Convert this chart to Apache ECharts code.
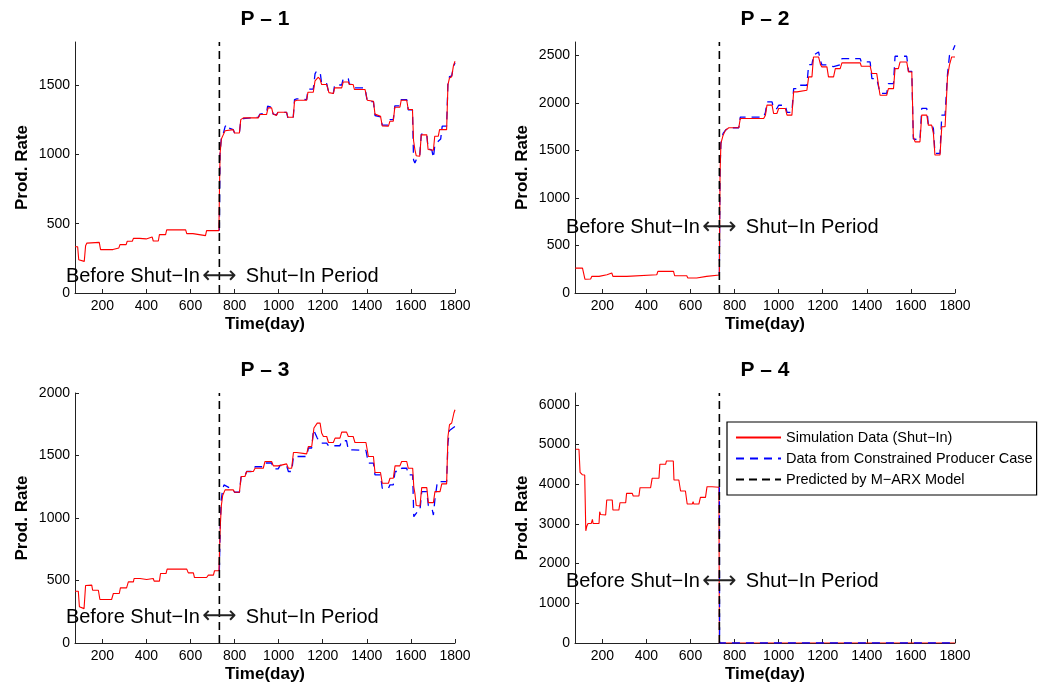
<!DOCTYPE html>
<html>
<head>
<meta charset="utf-8">
<title>Production rate before and during shut-in</title>
<script src="https://cdn.jsdelivr.net/npm/echarts@6/dist/echarts.min.js"></script>
<style>
  html, body { margin: 0; padding: 0; background: #fff; }
  #chart { width: 1045px; height: 689px; }
</style>
</head>
<body>
<div id="chart"></div>
<script>
// Producer names and panel titles
const wells = ['P \u2013 1', 'P \u2013 2', 'P \u2013 3', 'P \u2013 4'];
const seriesNames = ['Simulation Data (Shut\u2212In)', 'Data from Constrained Producer Case', 'Predicted by M\u2212ARX Model'];

// Day at which the shut-in starts
const shutInDay = 731;

// Axis ranges and tick labels
const dayMin = 76, dayMax = 1800;
const dayTicks = [200, 400, 600, 800, 1000, 1200, 1400, 1600, 1800];
const rateMax = [1810, 2640, 2000, 6300];
const rateTicks = [
  [0, 500, 1000, 1500],
  [0, 500, 1000, 1500, 2000, 2500],
  [0, 500, 1000, 1500, 2000],
  [0, 1000, 2000, 3000, 4000, 5000, 6000]
];
// Height of the period annotation in each panel (rate units)
const noteRate = [120, 690, 208, 1540];

// P-1 : [day, rate]
const p1Sim = [[76,334],[88,334],[93,240],[98,228],[118,228],[124,340],[130,360],[137,365],[186,365],[192,313],[248,313],[253,325],[275,325],[280,349],[308,349],[313,373],[336,373],[341,394],[369,394],[373,390],[399,390],[404,404],[426,404],[431,375],[454,375],[459,421],[487,421],[492,455],[578,455],[583,428],[611,428],[616,414],[668,414],[673,450],[729,450],[731,700],[734,1003],[740,1110],[749,1142],[757,1170],[764,1178],[794,1178],[800,1154],[822,1154],[828,1250],[840,1263],[908,1263],[915,1287],[945,1287],[952,1335],[968,1335],[975,1290],[983,1280],[990,1280],[996,1303],[1036,1303],[1042,1267],[1066,1267],[1072,1383],[1082,1390],[1127,1390],[1133,1448],[1157,1448],[1165,1530],[1180,1556],[1188,1540],[1195,1503],[1218,1503],[1228,1445],[1248,1438],[1254,1479],[1286,1479],[1293,1522],[1316,1522],[1321,1503],[1338,1503],[1344,1467],[1392,1467],[1402,1390],[1430,1383],[1437,1290],[1462,1275],[1470,1205],[1498,1203],[1505,1239],[1520,1239],[1527,1340],[1550,1340],[1556,1390],[1581,1390],[1588,1323],[1607,1323],[1612,1100],[1618,1034],[1624,990],[1640,986],[1647,1140],[1672,1140],[1678,1035],[1702,1029],[1708,1130],[1724,1130],[1730,1178],[1762,1178],[1768,1500],[1775,1551],[1785,1560],[1793,1640],[1800,1671]];
const p1Con = [[731,450],[734,1000],[740,1120],[749,1150],[757,1200],[764,1215],[772,1190],[794,1178],[800,1154],[822,1154],[828,1245],[840,1258],[908,1268],[915,1290],[945,1300],[950,1347],[968,1340],[975,1290],[990,1285],[996,1300],[1036,1303],[1042,1262],[1066,1262],[1072,1395],[1082,1400],[1127,1395],[1133,1470],[1157,1470],[1165,1580],[1170,1595],[1188,1595],[1195,1510],[1218,1510],[1228,1440],[1248,1440],[1254,1500],[1286,1500],[1293,1546],[1316,1546],[1321,1505],[1338,1505],[1344,1479],[1392,1479],[1402,1380],[1430,1380],[1437,1280],[1462,1270],[1470,1210],[1498,1210],[1505,1250],[1520,1250],[1527,1350],[1550,1350],[1556,1395],[1581,1395],[1588,1320],[1607,1320],[1612,960],[1618,938],[1624,960],[1640,990],[1647,1145],[1672,1145],[1678,1040],[1695,1030],[1702,974],[1708,1060],[1724,1094],[1735,1110],[1742,1203],[1762,1203],[1768,1520],[1775,1560],[1785,1565],[1793,1630],[1800,1660]];

// P-2 : [day, rate]
const p2Sim = [[77,262],[110,262],[117,252],[121,145],[125,140],[147,147],[152,175],[185,175],[190,192],[221,192],[226,210],[243,210],[248,175],[311,175],[316,192],[447,192],[452,227],[523,227],[528,182],[583,182],[588,157],[628,157],[633,175],[673,175],[678,189],[731,189],[734,1259],[738,1573],[748,1660],[759,1713],[774,1738],[819,1738],[826,1836],[932,1836],[940,1870],[947,1976],[970,1976],[977,1888],[992,1888],[1000,1941],[1030,1941],[1038,1871],[1060,1871],[1068,2115],[1083,2115],[1090,2133],[1128,2133],[1136,2273],[1151,2273],[1158,2483],[1181,2483],[1190,2400],[1196,2378],[1219,2378],[1226,2273],[1249,2273],[1257,2360],[1279,2360],[1287,2420],[1370,2420],[1375,2385],[1415,2385],[1423,2308],[1445,2308],[1460,2080],[1490,2080],[1498,2150],[1521,2150],[1528,2360],[1543,2360],[1551,2430],[1581,2430],[1589,2325],[1604,2325],[1611,1643],[1619,1590],[1641,1590],[1649,1871],[1672,1871],[1679,1766],[1694,1766],[1702,1678],[1709,1451],[1732,1451],[1740,1748],[1755,1748],[1766,2273],[1775,2400],[1785,2483],[1800,2483]];
const p2Con = [[731,189],[734,1300],[738,1573],[748,1680],[759,1713],[774,1738],[819,1738],[826,1850],[932,1850],[940,1900],[947,2010],[970,2010],[977,1940],[992,1940],[1000,1975],[1030,1975],[1038,1900],[1060,1900],[1068,2150],[1083,2150],[1090,2185],[1128,2185],[1136,2402],[1151,2402],[1158,2500],[1181,2535],[1190,2440],[1196,2400],[1219,2400],[1226,2380],[1249,2380],[1257,2400],[1279,2400],[1287,2465],[1370,2465],[1375,2430],[1415,2430],[1423,2255],[1445,2255],[1460,2100],[1490,2100],[1498,2203],[1521,2203],[1528,2490],[1581,2490],[1589,2330],[1604,2330],[1611,1620],[1619,1608],[1641,1608],[1649,1941],[1672,1941],[1679,1770],[1694,1770],[1702,1731],[1709,1469],[1732,1469],[1740,1871],[1755,1871],[1766,2300],[1775,2500],[1790,2550],[1800,2605]];

// P-3 : [day, rate]
const p3Sim = [[76,414],[91,414],[96,290],[100,275],[117,275],[124,460],[130,463],[152,463],[156,422],[182,422],[189,348],[242,348],[250,396],[277,396],[282,441],[310,441],[318,489],[341,489],[344,516],[371,516],[374,508],[401,508],[404,516],[431,516],[435,495],[459,495],[464,556],[489,556],[494,591],[583,591],[590,561],[613,561],[618,524],[673,524],[681,543],[704,543],[709,578],[729,578],[731,700],[735,930],[740,1100],[746,1180],[757,1225],[794,1225],[800,1206],[822,1206],[830,1332],[847,1332],[855,1372],[885,1372],[893,1398],[930,1398],[938,1452],[968,1452],[976,1417],[998,1417],[1006,1433],[1036,1433],[1044,1398],[1059,1398],[1067,1524],[1082,1524],[1089,1513],[1127,1513],[1135,1572],[1150,1572],[1160,1720],[1175,1759],[1188,1759],[1195,1680],[1203,1652],[1218,1652],[1226,1604],[1248,1604],[1256,1639],[1278,1639],[1286,1687],[1308,1687],[1316,1652],[1338,1652],[1346,1604],[1396,1604],[1407,1492],[1430,1492],[1437,1364],[1462,1364],[1470,1278],[1498,1278],[1505,1318],[1520,1318],[1528,1417],[1550,1417],[1558,1452],[1581,1452],[1588,1398],[1608,1398],[1613,1250],[1618,1198],[1624,1100],[1641,1096],[1649,1243],[1672,1243],[1679,1123],[1702,1123],[1709,1211],[1732,1211],[1740,1273],[1762,1273],[1768,1650],[1775,1746],[1785,1760],[1795,1840],[1800,1866]];
const p3Con = [[731,578],[735,950],[740,1150],[746,1230],[752,1265],[760,1250],[794,1225],[800,1206],[822,1206],[830,1340],[847,1340],[855,1372],[885,1372],[893,1410],[930,1410],[938,1440],[968,1440],[976,1393],[998,1393],[1006,1420],[1036,1420],[1044,1372],[1059,1372],[1067,1492],[1127,1492],[1135,1560],[1150,1560],[1158,1706],[1165,1706],[1175,1640],[1188,1599],[1218,1599],[1226,1578],[1278,1578],[1286,1618],[1308,1618],[1316,1545],[1338,1545],[1346,1540],[1396,1540],[1407,1439],[1430,1439],[1437,1345],[1462,1345],[1470,1238],[1498,1238],[1505,1265],[1520,1265],[1528,1372],[1550,1372],[1558,1398],[1581,1398],[1588,1345],[1608,1345],[1613,1011],[1620,1011],[1630,1051],[1641,1060],[1649,1211],[1672,1211],[1679,1100],[1695,1080],[1702,1024],[1709,1150],[1720,1291],[1762,1291],[1768,1600],[1775,1700],[1800,1733]];

// P-4 : [day, rate]
const p4Sim = [[79,4882],[94,4882],[99,4300],[109,4240],[120,4234],[125,2828],[130,2950],[135,3013],[150,3013],[155,3114],[158,3013],[185,3013],[188,3308],[192,3240],[215,3224],[220,3603],[245,3603],[248,3350],[275,3350],[280,3535],[306,3535],[310,3771],[336,3771],[340,3704],[366,3704],[371,3914],[419,3914],[426,4150],[457,4150],[461,4503],[487,4503],[491,4588],[522,4588],[525,4108],[547,4108],[555,3830],[577,3830],[585,3502],[608,3502],[612,3561],[615,3502],[638,3502],[645,3670],[668,3670],[675,3939],[698,3939],[703,3923],[729,3923],[731,0],[1800,0]];
const p4Con = [[731,3923],[732,0],[1800,0]];

const simData = [p1Sim, p2Sim, p3Sim, p4Sim];
const conData = [p1Con, p2Con, p3Con, p4Con];

// Panel placement (pixels)
const panelLeft = [75, 575, 75, 575];
const panelTop = [42, 42, 393, 393];
const panelWidth = 380;
const panelHeight = [251, 251, 250, 250];

const FONT = '"Liberation Sans", Arial, Helvetica, sans-serif';
const INK = '#000';
const plain = v => String(v);

const grids = [], xAxes = [], yAxes = [], titles = [], series = [];

wells.forEach((name, i) => {
  grids.push({ left: panelLeft[i], top: panelTop[i], width: panelWidth, height: panelHeight[i], containLabel: false });

  titles.push({
    text: name,
    left: panelLeft[i] + panelWidth / 2,
    top: panelTop[i] - 33,
    padding: 0,
    textAlign: 'center',
    textStyle: { fontFamily: FONT, fontSize: 21, fontWeight: 'bold', color: INK }
  });

  xAxes.push({
    gridIndex: i, type: 'value', min: dayMin, max: dayMax,
    name: 'Time(day)', nameLocation: 'middle', nameGap: 23,
    nameTextStyle: { fontFamily: FONT, fontSize: 17, fontWeight: 'bold', color: INK },
    axisLine: { show: true, onZero: false, lineStyle: { color: '#222', width: 1 } },
    axisTick: { show: true, inside: true, length: 4, customValues: dayTicks, lineStyle: { color: '#222' } },
    axisLabel: { customValues: dayTicks, formatter: plain, margin: 6, fontFamily: FONT, fontSize: 14, color: INK },
    splitLine: { show: false }
  });

  yAxes.push({
    gridIndex: i, type: 'value', min: 0, max: rateMax[i],
    name: 'Prod. Rate', nameLocation: 'middle', nameGap: 44,
    nameTextStyle: { fontFamily: FONT, fontSize: 17, fontWeight: 'bold', color: INK },
    axisLine: { show: true, onZero: false, lineStyle: { color: '#222', width: 1 } },
    axisTick: { show: true, inside: true, length: 4, customValues: rateTicks[i], lineStyle: { color: '#222' } },
    axisLabel: { customValues: rateTicks[i], formatter: plain, margin: 5, fontFamily: FONT, fontSize: 14, color: INK },
    splitLine: { show: false }
  });

  // Constrained-producer case (dashed blue)
  series.push({
    name: seriesNames[1], type: 'line', xAxisIndex: i, yAxisIndex: i,
    data: conData[i], showSymbol: false, symbol: 'none',
    z: i === 3 ? 4 : 2,
    lineStyle: { color: '#0000ff', width: 1.3, type: [8, 6] },
    itemStyle: { color: '#0000ff' }
  });

  // Shut-in simulation (solid red)
  series.push({
    name: seriesNames[0], type: 'line', xAxisIndex: i, yAxisIndex: i,
    data: simData[i], showSymbol: false, symbol: 'none', z: 3,
    lineStyle: { color: '#ff0000', width: 1.1 },
    itemStyle: { color: '#ff0000' }
  });

  // Shut-in boundary drawn with the M-ARX prediction style (dashed black)
  series.push({
    name: seriesNames[2], type: 'line', xAxisIndex: i, yAxisIndex: i,
    data: [[shutInDay, 0], [shutInDay, rateMax[i]]], showSymbol: false, symbol: 'none', z: 5,
    lineStyle: { color: '#000', width: 1.6, type: [8, 5] },
    itemStyle: { color: '#000' }
  });

  // Period annotation around the shut-in day
  const noteStyle = { show: true, fontFamily: FONT, fontSize: 20, color: '#000', opacity: 1, textBorderWidth: 0 };
  series.push({
    name: 'note' + i, type: 'scatter', xAxisIndex: i, yAxisIndex: i,
    symbolSize: 1, itemStyle: { color: '#000', opacity: 0 }, z: 6,
    data: [
      { value: [shutInDay, noteRate[i]], label: Object.assign({}, noteStyle, { position: 'left', distance: 19, formatter: 'Before Shut\u2212In' }) },
      { value: [shutInDay, noteRate[i]], label: Object.assign({}, noteStyle, { position: 'inside', formatter: '\u27F7', fontFamily: '"DejaVu Sans", sans-serif', fontSize: 24, color: '#222' }) },
      { value: [shutInDay, noteRate[i]], label: Object.assign({}, noteStyle, { position: 'right', distance: 26, formatter: 'Shut\u2212In Period' }) }
    ]
  });
});

const chart = echarts.init(document.getElementById('chart'), null, { renderer: 'canvas' });
chart.setOption({
  animation: false,
  backgroundColor: '#fff',
  silent: true,
  title: titles,
  grid: grids,
  xAxis: xAxes,
  yAxis: yAxes,
  legend: {
    data: seriesNames,
    orient: 'vertical',
    left: 727, top: 422,
    padding: [8, 4, 8, 8],
    itemWidth: 45, itemHeight: 14, itemGap: 6, itemTextGap: 7,
    itemStyle: { opacity: 0 },
    borderColor: '#000', borderWidth: 1.2, backgroundColor: '#fff',
    textStyle: { fontFamily: FONT, fontSize: 14.5, color: INK }
  },
  series: series
});
</script>
</body>
</html>
